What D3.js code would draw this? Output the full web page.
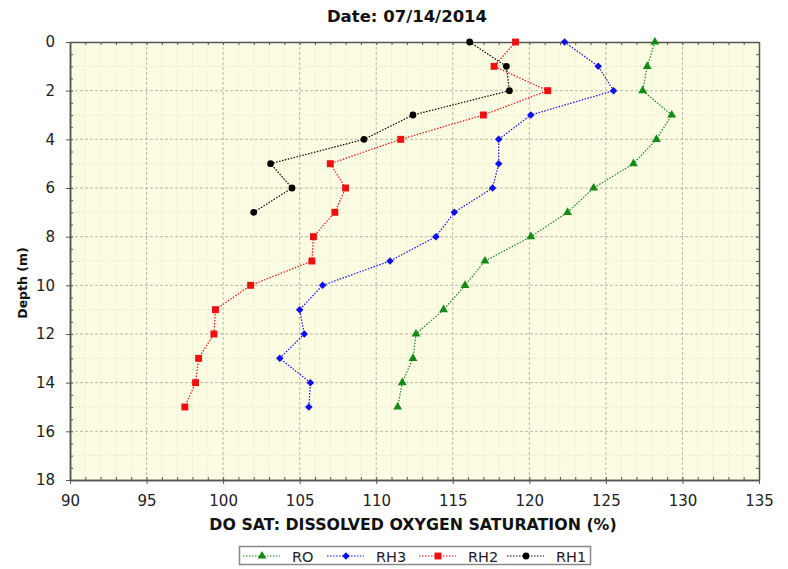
<!DOCTYPE html>
<html>
<head>
<meta charset="utf-8">
<script src="https://cdn.jsdelivr.net/npm/d3@7"></script>
<style>
  body { margin: 0; background: #fff; }
  text { font-family: Tahoma, "DejaVu Sans", Verdana, sans-serif; }
</style>
</head>
<body>
<script>
// depth profile data
const depthRO  = [0,1,2,3,4,5,6,7,8,9,10,11,12,13,14,15];
const valueRO  = [128.2,127.7,127.4,129.3,128.3,126.8,124.2,122.5,120.1,117.1,115.8,114.4,112.6,112.4,111.7,111.4];
const depthRH3 = [0,1,2,3,4,5,6,7,8,9,10,11,12,13,14,15];
const valueRH3 = [122.3,124.5,125.5,120.1,118.0,118.0,117.6,115.1,113.9,110.9,106.5,105.0,105.3,103.7,105.7,105.6];
const depthRH2 = [0,1,2,3,4,5,6,7,8,9,10,11,12,13,14,15];
const valueRH2 = [119.1,117.7,121.2,117.0,111.6,107.0,108.0,107.3,105.9,105.8,101.8,99.5,99.4,98.4,98.2,97.5];
const depthRH1 = [0,1,2,3,4,5,6,7];
const valueRH1 = [116.1,118.5,118.7,112.4,109.2,103.1,104.5,102.0];

const seriesNames = ["RO", "RH3", "RH2", "RH1"];
const xTicks = [90,95,100,105,110,115,120,125,130,135];
const yTicks = [0,2,4,6,8,10,12,14,16,18];

const W = 788, H = 569;
const margin = {left: 70, right: 29, top: 42, bottom: 89};

const svg = d3.select("body").append("svg").attr("width", W).attr("height", H);

const x = d3.scaleLinear().domain([90, 135]).range([margin.left, W - margin.right]);
const y = d3.scaleLinear().domain([0, 18]).range([margin.top, H - margin.bottom]);

// plot background
svg.append("rect")
   .attr("x", x(90)).attr("y", y(0))
   .attr("width", x(135) - x(90)).attr("height", y(18) - y(0))
   .attr("fill", "#fcfce2");

const grid = svg.append("g");
// minor grid
grid.selectAll("line.vminor").data(d3.range(91, 135, 1).filter(v => v % 5 !== 0)).enter()
    .append("line").attr("x1", d => x(d)).attr("x2", d => x(d))
    .attr("y1", y(0)).attr("y2", y(18))
    .attr("stroke", "#dcdcc4").attr("stroke-width", 0.8).attr("stroke-dasharray", "1,2");
grid.selectAll("line.hminor").data(d3.range(1, 18, 2)).enter()
    .append("line").attr("y1", d => y(d)).attr("y2", d => y(d))
    .attr("x1", x(90)).attr("x2", x(135))
    .attr("stroke", "#d6d6be").attr("stroke-width", 0.8).attr("stroke-dasharray", "1,2");
// major grid
grid.selectAll("line.vmajor").data(xTicks.slice(1, -1)).enter()
    .append("line").attr("x1", d => x(d)).attr("x2", d => x(d))
    .attr("y1", y(0)).attr("y2", y(18))
    .attr("stroke", "#a8a898").attr("stroke-width", 0.8).attr("stroke-dasharray", "3,2");
grid.selectAll("line.hmajor").data(yTicks.slice(1, -1)).enter()
    .append("line").attr("y1", d => y(d)).attr("y2", d => y(d))
    .attr("x1", x(90)).attr("x2", x(135))
    .attr("stroke", "#a8a898").attr("stroke-width", 0.8).attr("stroke-dasharray", "3,2");

// axes: ticks on all four sides, pointing inward
const axisColor = "#555";
function styleAxis(g) {
  g.select(".domain").attr("stroke", axisColor).attr("stroke-width", 1.5);
  g.selectAll(".tick line").attr("stroke", axisColor);
}
const minorX = d3.range(90, 136, 1);
const minorY = d3.range(0, 18.01, 0.5);

svg.append("g").attr("transform", `translate(0,${y(18)})`)
   .call(d3.axisBottom(x).tickValues(minorX).tickSize(-3).tickSizeOuter(0).tickFormat(""))
   .call(styleAxis);
svg.append("g").attr("transform", `translate(0,${y(0)})`)
   .call(d3.axisTop(x).tickValues(minorX).tickSize(-3).tickSizeOuter(0).tickFormat(""))
   .call(styleAxis);
svg.append("g").attr("transform", `translate(${x(90)},0)`)
   .call(d3.axisLeft(y).tickValues(minorY).tickSize(-3).tickSizeOuter(0).tickFormat(""))
   .call(styleAxis);
svg.append("g").attr("transform", `translate(${x(135)},0)`)
   .call(d3.axisRight(y).tickValues(minorY).tickSize(-3).tickSizeOuter(0).tickFormat(""))
   .call(styleAxis);

// major tick labels
const xAxis = svg.append("g").attr("transform", `translate(0,${y(18)})`)
   .call(d3.axisBottom(x).tickValues(xTicks).tickSize(4).tickPadding(11).tickSizeOuter(0))
   .call(styleAxis);
xAxis.selectAll("text").attr("font-size", 15).attr("fill", "#222")
   .style("font-family", "Tahoma, 'DejaVu Sans', sans-serif");
const yAxis = svg.append("g").attr("transform", `translate(${x(90)},0)`)
   .call(d3.axisLeft(y).tickValues(yTicks).tickSize(4).tickPadding(11).tickSizeOuter(0))
   .call(styleAxis);
yAxis.selectAll("text").attr("font-size", 15).attr("fill", "#222")
   .style("font-family", "Tahoma, 'DejaVu Sans', sans-serif");

// titles
svg.append("text").attr("x", 407).attr("y", 22).attr("text-anchor", "middle")
   .attr("font-size", 16.5).attr("font-weight", "bold").attr("fill", "#111")
   .text("Date: 07/14/2014");
svg.append("text").attr("x", 413).attr("y", 530).attr("text-anchor", "middle")
   .attr("font-size", 15.8).attr("font-weight", "bold").attr("fill", "#111")
   .text("DO SAT: DISSOLVED OXYGEN SATURATION (%)");
svg.append("text").attr("transform", "translate(27,283) rotate(-90)")
   .attr("text-anchor", "middle").attr("font-size", 12.5).attr("font-weight", "bold").attr("fill", "#111")
   .text("Depth (m)");

// diamond as a rotated square so it reads like the original's marker
const diamond = {
  draw(ctx, size) {
    const r = Math.sqrt(size) / Math.SQRT2 * 1.05;
    ctx.moveTo(0, -r); ctx.lineTo(r, 0); ctx.lineTo(0, r); ctx.lineTo(-r, 0); ctx.closePath();
  }
};

// series
const series = [
  {name: "RO",  depth: depthRO,  value: valueRO,  color: "#168a16", symbol: d3.symbolTriangle, size: 34},
  {name: "RH3", depth: depthRH3, value: valueRH3, color: "#1010ee", symbol: diamond,           size: 26},
  {name: "RH2", depth: depthRH2, value: valueRH2, color: "#ee1010", symbol: d3.symbolSquare,   size: 48},
  {name: "RH1", depth: depthRH1, value: valueRH1, color: "#000000", symbol: d3.symbolCircle,   size: 36}
];

const line = d3.line().x(d => x(d[0])).y(d => y(d[1]));

series.forEach(s => {
  const pts = s.value.map((v, i) => [v, s.depth[i]]);
  svg.append("path").attr("d", line(pts)).attr("fill", "none")
     .attr("stroke", s.color).attr("stroke-width", 1.2).attr("stroke-dasharray", "1.5,1.5");
  svg.append("g").selectAll("path").data(pts).enter().append("path")
     .attr("transform", d => `translate(${x(d[0])},${y(d[1])})`)
     .attr("d", d3.symbol().type(s.symbol).size(s.size))
     .attr("fill", s.color);
});

// legend
const legend = svg.append("g");
legend.append("rect").attr("x", 239.5).attr("y", 546.5).attr("width", 351).attr("height", 18)
   .attr("fill", "#fff").attr("stroke", "#888").attr("stroke-width", 1.5);
const legendX = [243, 327, 419, 507];
series.forEach((s, i) => {
  const lx = legendX[i];
  legend.append("line").attr("x1", lx).attr("x2", lx + 37).attr("y1", 556).attr("y2", 556)
     .attr("stroke", s.color).attr("stroke-width", 1).attr("stroke-dasharray", "1.5,1.5");
  legend.append("path").attr("transform", `translate(${lx + 19},556)`)
     .attr("d", d3.symbol().type(s.symbol).size(s.size)).attr("fill", s.color);
  legend.append("text").attr("x", lx + 49).attr("y", 561.5).attr("font-size", 14.5).attr("fill", "#222")
     .text(seriesNames[i]);
});
</script>
</body>
</html>
